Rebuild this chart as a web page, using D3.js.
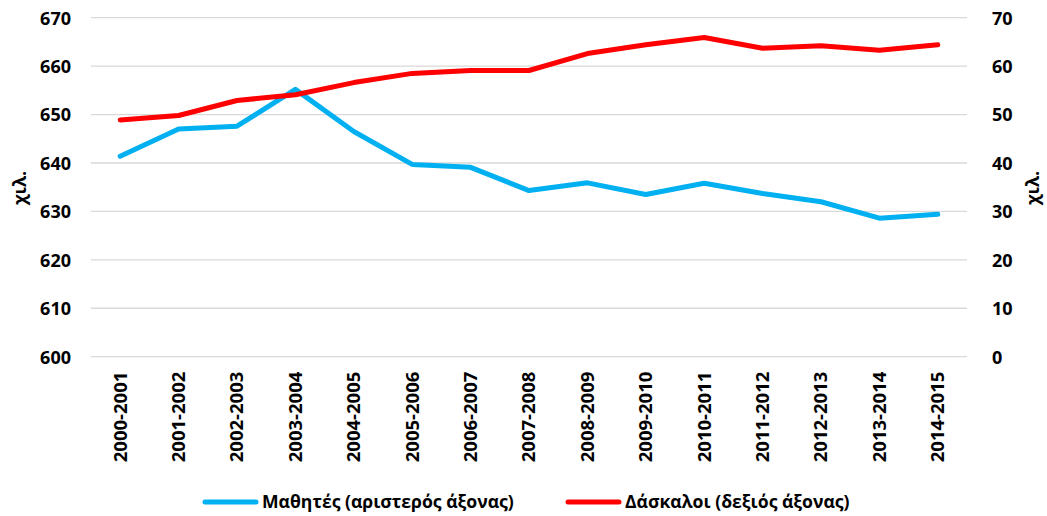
<!DOCTYPE html>
<html>
<head>
<meta charset="utf-8">
<script src="https://cdn.jsdelivr.net/npm/d3@7"></script>
<style>
html,body{margin:0;padding:0;background:#fff;}
svg text{font-family:"Open Sans","Noto Sans",sans-serif;font-weight:bold;fill:#000;}
</style>
</head>
<body>
<svg id="chart" width="1047" height="516"></svg>
<script>
const categories = ["2000-2001","2001-2002","2002-2003","2003-2004","2004-2005","2005-2006","2006-2007","2007-2008","2008-2009","2009-2010","2010-2011","2011-2012","2012-2013","2013-2014","2014-2015"];
const students = [641.4,647.0,647.6,655.2,646.5,639.7,639.1,634.3,635.9,633.5,635.8,633.7,632.0,628.6,629.4];
const teachers = [48.9,49.8,52.9,54.1,56.6,58.5,59.1,59.1,62.6,64.4,65.9,63.7,64.2,63.3,64.4];
const leftTicks = [600,610,620,630,640,650,660,670];
const rightTicks = [0,10,20,30,40,50,60,70];
const seriesNames = ["Μαθητές (αριστερός άξονας)","Δάσκαλοι (δεξιός άξονας)"];
const unitLabel = "χιλ.";

const svg = d3.select("#chart");
const L = 91, R = 967, T = 17.7, B = 356.7;
const FS = "18px";

const x = d3.scaleBand().domain(categories).range([L, R]);
const yL = d3.scaleLinear().domain([600,670]).range([B, T]);
const yR = d3.scaleLinear().domain([0,70]).range([B, T]);

// gridlines
svg.append("g").selectAll("line").data(leftTicks).join("line")
  .attr("x1", L).attr("x2", R)
  .attr("y1", d => yL(d)).attr("y2", d => yL(d))
  .attr("stroke", "#D9D9D9").attr("stroke-width", 1.3);

// left axis
const gl = svg.append("g").attr("transform", `translate(${L},0)`)
  .call(d3.axisLeft(yL).tickValues(leftTicks).tickSize(0).tickPadding(20));
gl.select(".domain").remove();
gl.selectAll("text").style("font-size",FS).attr("dy","0.35em");

// right axis
const gr = svg.append("g").attr("transform", `translate(${R},0)`)
  .call(d3.axisRight(yR).tickValues(rightTicks).tickSize(0).tickPadding(25));
gr.select(".domain").remove();
gr.selectAll("text").style("font-size",FS).attr("dy","0.35em");

// x axis
const gx = svg.append("g").attr("transform", `translate(0,${B})`)
  .call(d3.axisBottom(x).tickSize(0).tickPadding(0));
gx.select(".domain").remove();
gx.selectAll("text")
  .style("font-size","18.5px")
  .attr("text-anchor","end")
  .attr("transform","translate(0,15) rotate(-90)")
  .attr("x",0).attr("y",0).attr("dy","0.35em");

// axis titles
svg.append("text").attr("transform","translate(21,188) rotate(-90)")
  .attr("text-anchor","middle").attr("dy","0.3em").style("font-size","18px").text(unitLabel);
svg.append("text").attr("transform","translate(1034,188) rotate(-90)")
  .attr("text-anchor","middle").attr("dy","0.3em").style("font-size","18px").text(unitLabel);

const cx = d => x(d) + x.bandwidth()/2;

svg.append("path").datum(students)
  .attr("fill","none").attr("stroke","#00B0F0").attr("stroke-width",5)
  .attr("stroke-linejoin","round").attr("stroke-linecap","round")
  .attr("d", d3.line().x((d,i)=>cx(categories[i])).y(d=>yL(d)));

svg.append("path").datum(teachers)
  .attr("fill","none").attr("stroke","#FF0000").attr("stroke-width",5)
  .attr("stroke-linejoin","round").attr("stroke-linecap","round")
  .attr("d", d3.line().x((d,i)=>cx(categories[i])).y(d=>yR(d)));

// legend
const legend = [
  {name: seriesNames[0], color:"#00B0F0", x1:205, x2:256, tx:262},
  {name: seriesNames[1], color:"#FF0000", x1:568, x2:619, tx:625}
];
const lg = svg.append("g").selectAll("g").data(legend).join("g");
lg.append("line").attr("x1",d=>d.x1).attr("x2",d=>d.x2).attr("y1",502).attr("y2",502)
  .attr("stroke",d=>d.color).attr("stroke-width",5).attr("stroke-linecap","round");
lg.append("text").attr("x",d=>d.tx).attr("y",502).attr("dy","0.35em")
  .style("font-size","17.6px").text(d=>d.name);
</script>
</body>
</html>
